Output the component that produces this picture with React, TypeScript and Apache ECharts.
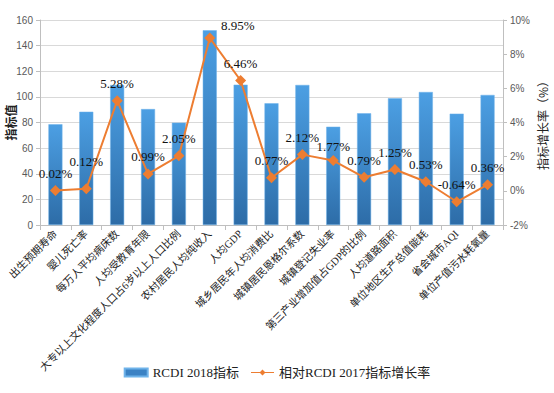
import React, { useEffect, useRef } from "react";
import * as echarts from "echarts";

const categories = [
  "出生预期寿命",
  "婴儿死亡率",
  "每万人平均病床数",
  "人均受教育年限",
  "大专以上文化程度人口占6岁以上人口比例",
  "农村居民人均纯收入",
  "人均GDP",
  "城乡居民年人均消费比",
  "城镇居民恩格尔系数",
  "城镇登记失业率",
  "第三产业增加值占GDP的比例",
  "人均道路面积",
  "单位地区生产总值能耗",
  "省会城市AQI",
  "单位产值污水耗氧量",
];

const rcdi2018 = [78.6, 88.4, 109.3, 90.5, 79.9, 152, 109.5, 95, 109.3, 76.7, 87.2, 98.9, 103.8, 86.9, 101.5];
const growthRate = [0.02, 0.12, 5.28, 0.99, 2.05, 8.95, 6.46, 0.77, 2.12, 1.77, 0.79, 1.25, 0.53, -0.64, 0.36];
const labelOffsets: Record<number, [number, number]> = { 1: [0, -10], 5: [28, 5], 9: [0, 3] };

const leftTicks = { min: 0, max: 160, interval: 20 };
const rightTicks = { min: -2, max: 10, interval: 2 };

export default function App() {
  const ref = useRef<HTMLDivElement>(null);
  useEffect(() => {
    if (!ref.current) return;
    const chart = echarts.init(ref.current, undefined, { renderer: "svg" });
    const tickFont = { color: "#595959", fontSize: 10, fontFamily: "Liberation Sans, Arial, sans-serif" };
    chart.setOption({
      animation: false,
      backgroundColor: "#ffffff",
      grid: { left: 40, right: 51, top: 20, bottom: 168, containLabel: false, outerBoundsMode: "none" },
      legend: {
        top: 361,
        left: "center",
        itemGap: 12,
        textStyle: { fontFamily: "Liberation Serif, 'Noto Sans CJK SC', serif", fontSize: 13, color: "#222" },
        data: [
          { name: "RCDI 2018指标", icon: "rect", itemStyle: { color: "#3b82c4" } },
          {
            name: "相对RCDI 2017指标增长率",
            icon: "path://M0,3.4L9,3.4L11.5,1L14,3.4L23,3.4L23,4.6L14,4.6L11.5,7L9,4.6L0,4.6Z",
          },
        ],
        itemWidth: 23,
        itemHeight: 8,
      },
      xAxis: {
        type: "category",
        data: categories,
        boundaryGap: true,
        axisLine: { lineStyle: { color: "#bfbfbf" } },
        axisTick: { show: true, length: 5, lineStyle: { color: "#bfbfbf" } },
        axisLabel: {
          rotate: 45,
          interval: 0,
          fontSize: 10.5,
          color: "#222",
          margin: 7,
          fontFamily: "Liberation Serif, 'Noto Sans CJK SC', serif",
        },
      },
      yAxis: [
        {
          type: "value",
          ...leftTicks,
          name: "指标值",
          nameLocation: "middle",
          nameRotate: 90,
          nameGap: 24,
          nameMoveOverlap: false,
          nameTextStyle: { fontSize: 12, color: "#222", fontWeight: "bold", fontFamily: "'Noto Sans CJK SC', sans-serif" },
          axisLine: { show: true, lineStyle: { color: "#bfbfbf" } },
          axisTick: { show: true, length: 4, lineStyle: { color: "#bfbfbf" } },
          axisLabel: { ...tickFont, margin: 7 },
          splitLine: { show: true, lineStyle: { color: "#d9d9d9" } },
        },
        {
          type: "value",
          ...rightTicks,
          name: "指标增长率（%）",
          nameLocation: "middle",
          nameRotate: 90,
          nameGap: 33,
          nameMoveOverlap: false,
          nameTextStyle: { fontSize: 12, color: "#222", fontFamily: "'Noto Sans CJK SC', sans-serif" },
          axisLine: { show: true, lineStyle: { color: "#bfbfbf" } },
          axisTick: { show: true, length: 4, lineStyle: { color: "#bfbfbf" } },
          axisLabel: { ...tickFont, margin: 7, formatter: (v: number) => v + "%" },
          splitLine: { show: false },
        },
      ],
      series: [
        {
          name: "RCDI 2018指标",
          type: "bar",
          yAxisIndex: 0,
          barWidth: 14,
          data: rcdi2018,
          itemStyle: {
            color: new echarts.graphic.LinearGradient(0, 0, 0, 1, [
              { offset: 0, color: "#4c9fe3" },
              { offset: 1, color: "#2d6ca7" },
            ]),
            borderColor: "#6fb3ea",
            borderWidth: 0.5,
          },
        },
        {
          name: "相对RCDI 2017指标增长率",
          type: "line",
          yAxisIndex: 1,
          symbol: "diamond",
          symbolSize: 11,
          lineStyle: { color: "#ed7d31", width: 2 },
          itemStyle: { color: "#ed7d31" },
          data: growthRate.map((v, i) => ({
            value: v,
            label: labelOffsets[i] ? { offset: labelOffsets[i] } : undefined,
          })),
          label: {
            show: true,
            position: "top",
            distance: 5,
            formatter: (p: any) => p.value.toFixed(2) + "%",
            fontFamily: "Liberation Serif, 'Times New Roman', serif",
            fontSize: 13,
            color: "#111",
          },
        },
      ],
    });
    return () => chart.dispose();
  }, []);
  return <div ref={ref} style={{ width: 554, height: 393, position: "absolute", left: 0, top: 0 }} />;
}
